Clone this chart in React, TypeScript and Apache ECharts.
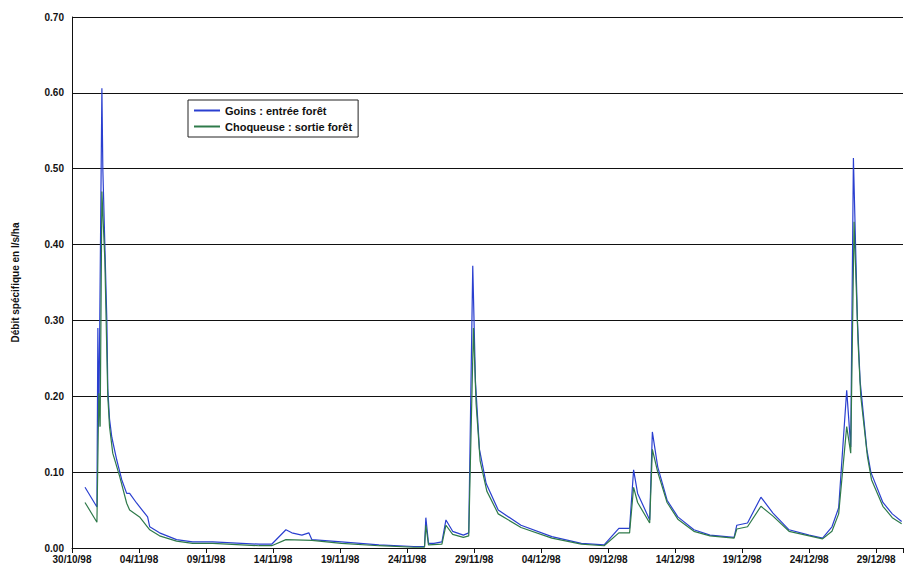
import { useEffect, useRef } from "react";
import * as echarts from "echarts";

// days since 30/10/98
const goinsDays = [0.97, 1.86, 1.93, 2.0, 2.23, 2.3, 2.45, 2.6, 2.67, 2.8, 2.97, 3.34, 3.71, 4.08, 4.3, 4.83, 5.64, 5.8, 6.53, 7.8, 9.0, 10.5, 13.96, 14.9, 15.96, 16.4, 17.15, 17.67, 17.9, 20.1, 22.9, 25.5, 26.3, 26.4, 26.6, 27.0, 27.6, 27.9, 28.4, 29.2, 29.6, 29.9, 30.1, 30.4, 30.9, 31.8, 33.5, 35.8, 38.0, 39.7, 40.8, 41.6, 41.9, 42.2, 43.1, 43.3, 43.7, 44.4, 45.2, 46.4, 47.6, 49.4, 49.6, 50.4, 51.4, 52.3, 53.5, 55.0, 56.0, 56.7, 57.2, 57.8, 58.1, 58.3, 58.6, 58.8, 59.3, 59.6, 60.5, 61.2, 61.9];
const goinsVals = [0.08, 0.054, 0.29, 0.16, 0.606, 0.5, 0.4, 0.3, 0.21, 0.17, 0.146, 0.116, 0.09, 0.072, 0.072, 0.059, 0.041, 0.028, 0.02, 0.011, 0.008, 0.008, 0.005, 0.005, 0.024, 0.02, 0.017, 0.02, 0.011, 0.008, 0.004, 0.002, 0.002, 0.04, 0.006, 0.006, 0.008, 0.037, 0.022, 0.017, 0.02, 0.372, 0.22, 0.13, 0.085, 0.05, 0.03, 0.015, 0.006, 0.004, 0.026, 0.026, 0.103, 0.072, 0.037, 0.153, 0.107, 0.063, 0.041, 0.024, 0.017, 0.014, 0.03, 0.033, 0.067, 0.046, 0.024, 0.017, 0.013, 0.028, 0.053, 0.208, 0.133, 0.514, 0.3, 0.22, 0.13, 0.1, 0.06, 0.045, 0.035];
const choqDays = [0.97, 1.86, 2.0, 2.1, 2.23, 2.45, 2.67, 2.8, 3.04, 3.56, 4.08, 4.3, 5.04, 5.8, 6.53, 7.8, 9.0, 10.5, 13.96, 14.9, 15.96, 17.9, 20.1, 22.9, 25.5, 26.3, 26.4, 26.6, 27.6, 27.9, 28.4, 29.2, 29.6, 29.95, 30.15, 30.45, 30.95, 31.8, 33.5, 35.8, 38.0, 39.7, 40.8, 41.6, 41.9, 42.2, 43.1, 43.3, 43.7, 44.4, 45.2, 46.4, 47.6, 49.4, 49.6, 50.4, 51.4, 52.3, 53.5, 55.0, 56.0, 56.7, 57.2, 57.8, 58.1, 58.35, 58.65, 58.85, 59.35, 59.65, 60.5, 61.2, 61.9];
const choqVals = [0.06, 0.034, 0.204, 0.16, 0.47, 0.38, 0.2, 0.16, 0.125, 0.094, 0.059, 0.05, 0.041, 0.024, 0.016, 0.009, 0.006, 0.006, 0.003, 0.003, 0.011, 0.01, 0.006, 0.003, 0.001, 0.001, 0.03, 0.004, 0.005, 0.03, 0.018, 0.014, 0.016, 0.29, 0.19, 0.115, 0.075, 0.045, 0.027, 0.013, 0.005, 0.003, 0.02, 0.02, 0.08, 0.06, 0.033, 0.13, 0.1, 0.06, 0.038, 0.022, 0.016, 0.013, 0.025, 0.028, 0.055, 0.042, 0.022, 0.016, 0.012, 0.022, 0.045, 0.16, 0.125, 0.43, 0.27, 0.2, 0.12, 0.09, 0.055, 0.04, 0.032];
const startDate = new Date(1998, 9, 30);

const zip = (d: number[], v: number[]) => d.map((x, i) => [x, v[i]]);
const fmt = (n: number) => {
  const dt = new Date(startDate.getTime() + n * 86400000);
  const p = (x: number) => String(x).padStart(2, "0");
  return `${p(dt.getDate())}/${p(dt.getMonth() + 1)}/98`;
};

export default function App() {
  const ref = useRef<HTMLDivElement>(null);

  useEffect(() => {
    document.body.style.margin = "0";
    const chart = echarts.init(ref.current!, null, { renderer: "svg" });
    const font = "'Liberation Sans', Arial, sans-serif";
    chart.setOption({
      animation: false,
      backgroundColor: "#fff",
      textStyle: { fontFamily: font },
      grid: { left: 72, right: 0, top: 17, bottom: 27 },
      legend: {
        left: 188,
        top: 100,
        orient: "vertical",
        itemGap: 5,
        itemWidth: 26,
        itemHeight: 2,
        padding: [5, 6],
        borderColor: "#222",
        borderWidth: 1,
        icon: "rect",
        textStyle: { fontSize: 11, fontWeight: "bold", color: "#111", fontFamily: font },
      },
      xAxis: {
        type: "value",
        min: 0,
        max: 62,
        interval: 5,
        axisLine: { lineStyle: { color: "#111" } },
        axisTick: { lineStyle: { color: "#111" } },
        splitLine: { show: false },
        axisLabel: { formatter: (v: number) => (v > 61 ? "" : fmt(v)), fontSize: 10, fontWeight: "bold", color: "#111", margin: 6 },
      },
      yAxis: {
        type: "value",
        min: 0,
        max: 0.7,
        interval: 0.1,
        name: "Débit spécifique en l/s/ha",
        nameLocation: "middle",
        nameGap: 52,
        nameTextStyle: { fontSize: 10, fontWeight: "bold", color: "#111" },
        axisLine: { show: true, lineStyle: { color: "#111" } },
        axisTick: { show: false },
        splitLine: { lineStyle: { color: "#111", width: 1 } },
        axisLabel: { formatter: (v: number) => v.toFixed(2), fontSize: 10, fontWeight: "bold", color: "#111" },
      },
      series: [
        {
          name: "Goins : entrée forêt",
          type: "line",
          data: zip(goinsDays, goinsVals),
          showSymbol: false,
          lineStyle: { color: "#2a3fd0", width: 1.2 },
          itemStyle: { color: "#2a3fd0" },
        },
        {
          name: "Choqueuse : sortie forêt",
          type: "line",
          data: zip(choqDays, choqVals),
          showSymbol: false,
          lineStyle: { color: "#2f7a4a", width: 1.2 },
          itemStyle: { color: "#2f7a4a" },
        },
      ],
    });
    return () => chart.dispose();
  }, []);

  return <div ref={ref} style={{ width: 906, height: 575 }} />;
}
